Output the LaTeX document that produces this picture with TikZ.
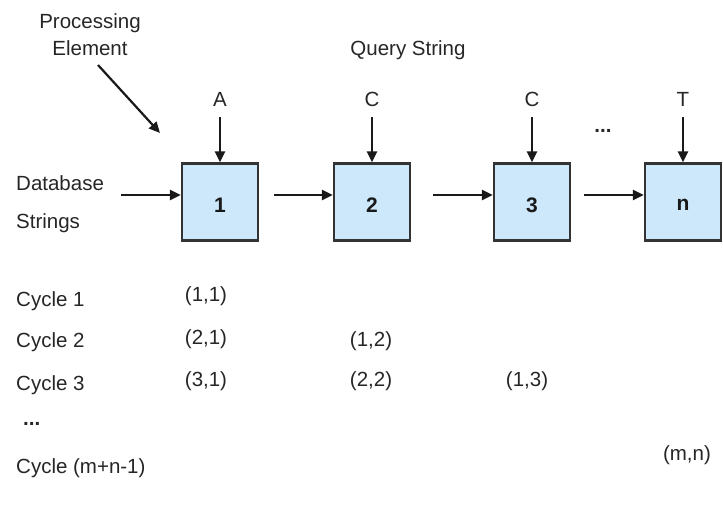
\documentclass[tikz,border=0pt]{standalone}
\usepackage{fontspec}
\setmainfont{Liberation Sans}
\usetikzlibrary{arrows.meta}
\begin{document}
\begin{tikzpicture}[x=1pt,y=-1pt,
  txt/.style={font=\fontsize{20.5}{22}\selectfont, inner sep=0pt, text=black!85},
  lefttxt/.style={txt, anchor=west},
  num/.style={txt, font=\fontsize{21}{22}\selectfont\bfseries, text=black!90},
  pe/.style={draw=black!80, line width=2.2pt, fill={rgb,255:red,204;green,232;blue,250}, minimum width=76pt, minimum height=77pt, inner sep=0pt},
  arr/.style={line width=2.2pt, draw=black!90, -{Triangle[length=11pt,width=10pt]}}
]
\useasboundingbox (0,0) rectangle (723,509);
% processing elements
\node[pe] (p1) at (220,202) {};
\node[pe] (p2) at (372,202) {};
\node[pe] (p3) at (532,202) {};
\node[pe] (pn) at (683,202) {};
\node[num] (l1) at (220,205) {1};
\node[num] (l2) at (372,205) {2};
\node[num] (l3) at (532,205) {3};
\node[num] (ln) at (683,205) {n};
% horizontal arrows
\coordinate (dbs) at (121,195);
\draw[arr] (dbs) -- (p1.west |- dbs);
\draw[arr] (p1.east |- dbs) ++(15,0) coordinate (a1) -- (p2.west |- dbs);
\draw[arr] (p2.east |- dbs) ++(22,0) coordinate (a2) -- (p3.west |- dbs);
\draw[arr] (p3.east |- dbs) ++(13,0) coordinate (a3) -- (pn.west |- dbs);
% query characters
\node[txt] (qa) at (220,99) {A};
\node[txt] (qc1) at (372,99) {C};
\node[txt] (qc2) at (532,99) {C};
\node[txt] (qt) at (683,99) {T};
\node[txt, font=\fontsize{20.5}{22}\selectfont\bfseries] (qdots) at (603,131) {...};
\draw[arr] (220,117) -- (p1.north);
\draw[arr] (372,117) -- (p2.north);
\draw[arr] (532,117) -- (p3.north);
\draw[arr] (683,117) -- (pn.north);
% labels
\node[txt] (qs) at (408,50) {Query String};
\node[txt, align=center] (pel) at (90,35) {Processing\\[5pt]Element};
\coordinate (pes) at (98,65);
\coordinate (pee) at (160,133);
\draw[arr] (pes) -- (pee);
\node[lefttxt] (db) at (16,183) {Database};
\node[lefttxt] (st) at (16,223) {Strings};
% cycles
\node[lefttxt] (c1) at (16,301) {Cycle 1};
\node[lefttxt] (c2) at (16,342) {Cycle 2};
\node[lefttxt] (c3) at (16,385) {Cycle 3};
\node[lefttxt, font=\fontsize{20.5}{22}\selectfont\bfseries] (cd) at (23,424) {...};
\node[lefttxt] (cm) at (16,468) {Cycle (m+n-1)};
\node[txt] (v11) at (206,296) {(1,1)};
\node[txt] (v21) at (206,339) {(2,1)};
\node[txt] (v12) at (371,341) {(1,2)};
\node[txt] (v31) at (206,381) {(3,1)};
\node[txt] (v22) at (371,381) {(2,2)};
\node[txt] (v13) at (527,381) {(1,3)};
\node[txt] (vmn) at (687,455) {(m,n)};
\end{tikzpicture}
\end{document}
